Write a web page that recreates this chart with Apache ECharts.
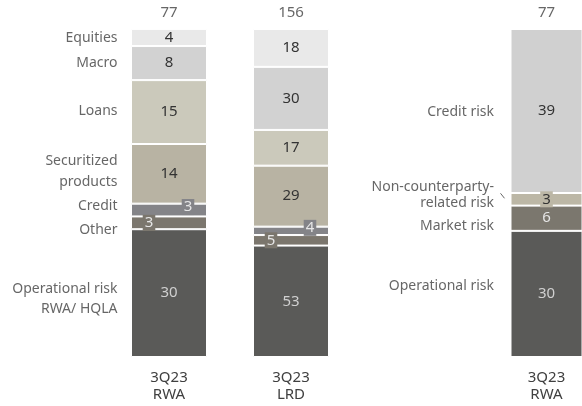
<!DOCTYPE html>
<html><head><meta charset="utf-8">
<script src="https://cdn.jsdelivr.net/npm/echarts@6/dist/echarts.min.js"></script>
<style>html,body{margin:0;padding:0;background:#fff}#c{width:582px;height:406px}</style>
</head><body><div id="c"></div>
<script>
// ---- data: left panel (bottom to top) ----
const categoriesA = ['3Q23\nRWA', '3Q23\nLRD'];
const operationalRisk = [30, 53];
const other = [3, 5];
const credit = [3, 4];
const securitized = [14, 29];
const loans = [15, 17];
const macro = [8, 30];
const equities = [4, 18];
const totalsA = [77, 156];
const namesA = ['Operational risk\nRWA/ HQLA', 'Other', 'Credit', 'Securitized\nproducts', 'Loans', 'Macro', 'Equities'];

// ---- data: right panel (bottom to top) ----
const categoriesB = ['3Q23\nRWA'];
const riskOperational = [30];
const riskMarket = [6];
const riskNonCounterparty = [3];
const riskCredit = [39];
const totalsB = [77];
const namesB = ['Operational risk', 'Market risk', 'Non-counterparty-\nrelated risk', 'Credit risk'];

const FONT = 'Noto Sans';
const TXT = '#404040';

const stackA = [operationalRisk, other, credit, securitized, loans, macro, equities];
const styleA = [
  {color: '#5a5a58', text: '#d0d0d0'},
  {color: '#7b766d', text: '#e6e6e6', small: true, off: [-20, 0]},
  {color: '#848488', text: '#e6e6e6', small: true, off: [19, -3]},
  {color: '#b8b3a3', text: '#333'},
  {color: '#cbc9bb', text: '#333'},
  {color: '#d2d2d2', text: '#333'},
  {color: '#e9e9e9', text: '#333'}
];
const nameNudgeA = [6, 7, -4, -2, -1, 0, 0];
const nameLineA = [20, 18, 18, 21, 18, 18, 18];

const stackB = [riskOperational, riskMarket, riskNonCounterparty, riskCredit];
const styleB = [
  {color: '#5a5a58', text: '#d0d0d0'},
  {color: '#7b776e', text: '#e6e6e6'},
  {color: '#bcb7a6', text: '#333', small: true, off: [0, 0]},
  {color: '#d0d0d0', text: '#333'}
];
const nameNudgeB = [-8, 8, -4, 1];
const nameLineB = [18, 18, 16, 18];

function sums(stack) {
  return stack[0].map((_, j) => stack.reduce((s, arr) => s + arr[j], 0));
}
function pct(stack) {
  const s = sums(stack);
  return stack.map(arr => arr.map((v, j) => v / s[j] * 100));
}
function mids(stack, j) {
  const p = pct(stack);
  let acc = 0;
  return p.map(arr => { const m = acc + arr[j] / 2; acc += arr[j]; return m; });
}

function barSeries(stack, styles, axis, stackName) {
  const p = pct(stack);
  return stack.map((arr, i) => {
    const st = styles[i];
    const label = {
      show: true, position: 'inside', fontFamily: FONT, fontSize: 15, color: st.text,
      formatter: prm => String(arr[prm.dataIndex])
    };
    if (st.small) {
      label.backgroundColor = st.color;
      label.padding = [1, 2, 0, 2];
      label.offset = st.off;
    }
    return {
      type: 'bar', stack: stackName, xAxisIndex: axis, yAxisIndex: axis,
      barWidth: 76, data: p[i],
      itemStyle: {color: st.color, borderColor: '#fff', borderWidth: 1},
      label: label, emphasis: {disabled: true}, z: 2
    };
  });
}

function nameSeries(stack, names, nudges, lines, axis, dist) {
  const m = mids(stack, 0);
  return {
    type: 'scatter', xAxisIndex: axis, yAxisIndex: axis, symbolSize: 1,
    itemStyle: {color: 'rgba(0,0,0,0)'}, silent: true, z: 5,
    data: names.map((n, i) => ({value: [0, m[i]], label: {offset: [0, nudges[i]], lineHeight: lines[i]}})),
    label: {
      show: true, position: 'left', distance: dist, fontFamily: FONT, fontSize: 14,
      color: TXT, align: 'right',
      formatter: prm => names[prm.dataIndex]
    }
  };
}

function totalSeries(totals, axis) {
  return {
    type: 'scatter', xAxisIndex: axis, yAxisIndex: axis, symbolSize: 1,
    itemStyle: {color: 'rgba(0,0,0,0)'}, silent: true, z: 5,
    data: totals.map((t, j) => [j, 100]),
    label: {
      show: true, position: 'top', distance: 8, fontFamily: FONT, fontSize: 15, color: TXT,
      formatter: prm => String(totals[prm.dataIndex])
    }
  };
}

const xAxisBase = {
  type: 'category', axisLine: {show: false}, axisTick: {show: false},
  axisLabel: {fontFamily: FONT, fontSize: 15, color: TXT, lineHeight: 17, margin: 12}
};
const yAxisBase = {type: 'value', min: 0, max: 100, show: false};

const chart = echarts.init(document.getElementById('c'));
chart.setOption({
  animation: false,
  grid: [
    {left: 108, width: 244, top: 29, bottom: 49},
    {left: 511, width: 76, top: 29, bottom: 49}
  ],
  xAxis: [
    Object.assign({}, xAxisBase, {gridIndex: 0, data: categoriesA}),
    Object.assign({}, xAxisBase, {gridIndex: 1, data: categoriesB})
  ],
  yAxis: [
    Object.assign({}, yAxisBase, {gridIndex: 0}),
    Object.assign({}, yAxisBase, {gridIndex: 1})
  ],
  series: [].concat(
    barSeries(stackA, styleA, 0, 'a'),
    barSeries(stackB, styleB, 1, 'b'),
    [nameSeries(stackA, namesA, nameNudgeA, nameLineA, 0, 51),
     nameSeries(stackB, namesB, nameNudgeB, nameLineB, 1, 52),
     totalSeries(totalsA, 0),
     totalSeries(totalsB, 1)]
  )
});

// leader line from "related risk" label to its segment
const mB = mids(stackB, 0);
const pt = chart.convertToPixel({xAxisIndex: 1, yAxisIndex: 1}, [0, mB[2]]);
const leftEdge = pt[0] - 38;
chart.setOption({
  graphic: [{
    type: 'line', silent: true,
    shape: {x1: leftEdge - 8, y1: pt[1] - 6, x2: leftEdge - 4, y2: pt[1] - 1},
    style: {stroke: '#666', lineWidth: 1}
  }]
});
</script>
</body></html>
